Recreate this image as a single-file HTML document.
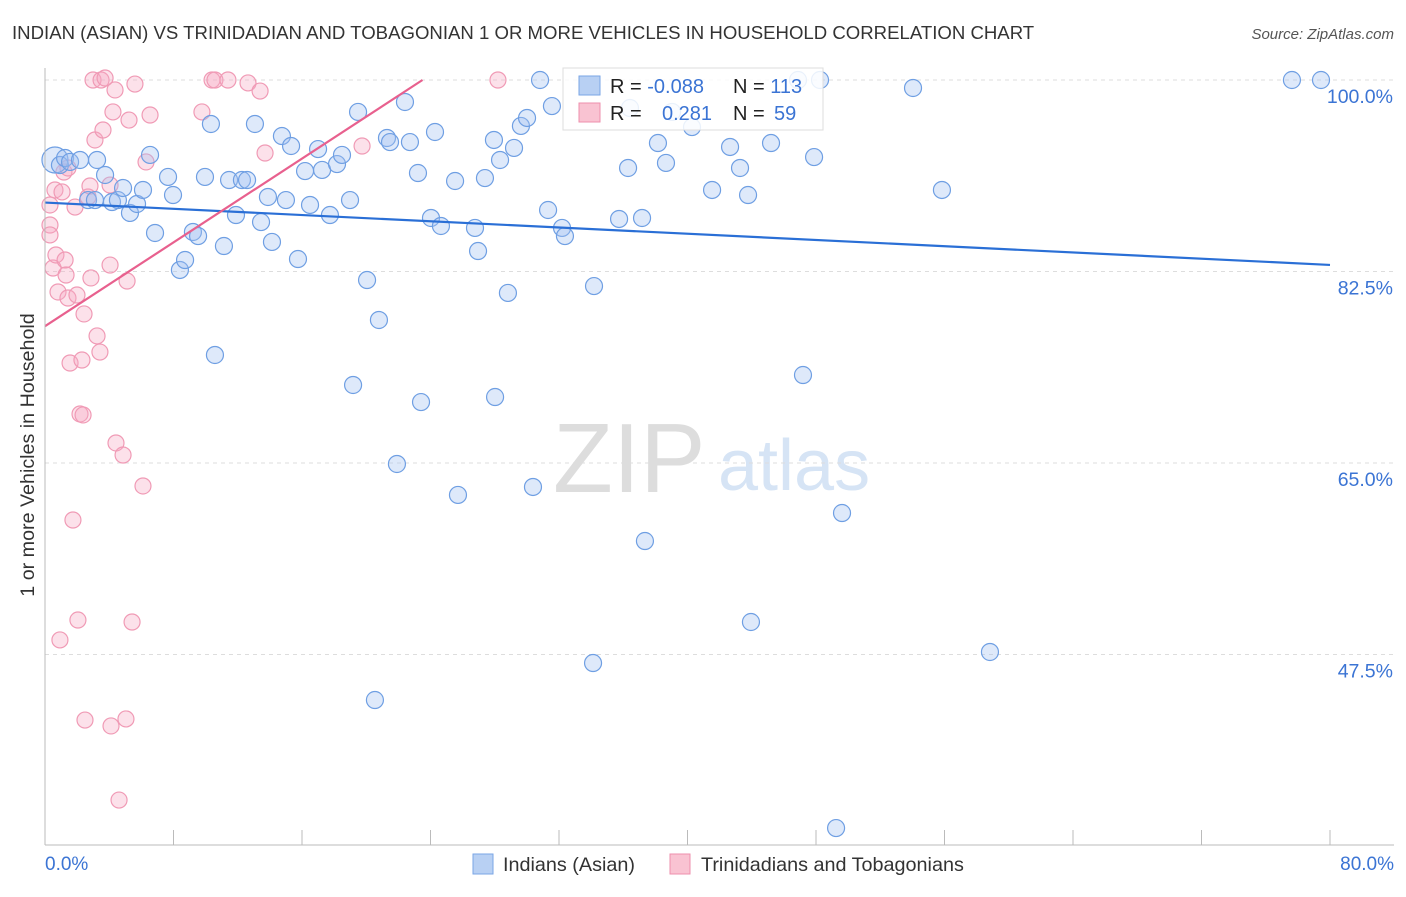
<!DOCTYPE html>
<html><head><meta charset="utf-8"><style>
body{margin:0;background:#fff;font-family:"Liberation Sans",sans-serif}
svg text{font-family:"Liberation Sans",sans-serif}
</style></head><body>
<svg id="c" width="1406" height="892">
<text x="12" y="39" font-size="18.6" fill="#333">INDIAN (ASIAN) VS TRINIDADIAN AND TOBAGONIAN 1 OR MORE VEHICLES IN HOUSEHOLD CORRELATION CHART</text>
<text x="1394" y="39" font-size="15" fill="#555" font-style="italic" text-anchor="end">Source: ZipAtlas.com</text>
<text x="553" y="492" font-size="98" fill="#ddd" font-family="Liberation Serif">ZIP</text>
<text x="718" y="490" font-size="72" fill="#d6e4f5">atlas</text>
<g id="grid"></g><g id="pts"></g><g id="lines"></g>
<line x1="45" y1="68" x2="45" y2="845" stroke="#bbb"/>
<line x1="45" y1="845" x2="1394" y2="845" stroke="#bbb"/>
<text x="34" y="455" font-size="19.7" fill="#333" text-anchor="middle" transform="rotate(-90 34 455)">1 or more Vehicles in Household</text>
<text x="45" y="870" font-size="19" fill="#3b74d4">0.0%</text>
<text x="1394" y="870" font-size="19" fill="#3b74d4" text-anchor="end">80.0%</text>
<g>
<rect x="563" y="68" width="260" height="62" fill="rgba(255,255,255,0.85)" stroke="#ddd"/>
<rect x="579" y="76" width="21" height="19" fill="#b8d0f3" stroke="#7aa6e6"/>
<rect x="579" y="103" width="21" height="19" fill="#f9c3d2" stroke="#ee8fac"/>
<text x="610" y="93" font-size="20" fill="#222">R = <tspan fill="#3b74d4">-0.088</tspan></text>
<text x="733" y="93" font-size="20" fill="#222">N = <tspan fill="#3b74d4">113</tspan></text>
<text x="610" y="120" font-size="20" fill="#222">R = </text>
<text x="662" y="120" font-size="20" fill="#3b74d4">0.281</text>
<text x="733" y="120" font-size="20" fill="#222">N = </text>
<text x="774" y="120" font-size="20" fill="#3b74d4">59</text>
</g>
<g>
<rect x="473" y="854" width="20" height="20" fill="#b8d0f3" stroke="#7aa6e6"/>
<text x="503" y="871" font-size="19.8" fill="#333">Indians (Asian)</text>
<rect x="670" y="854" width="20" height="20" fill="#f9c3d2" stroke="#ee8fac"/>
<text x="701" y="871" font-size="19.8" fill="#333">Trinidadians and Tobagonians</text>
</g>
</svg>
<script>
const yTicks=[100,82.5,65,47.5];
const yTickLabels=["100.0%","82.5%","65.0%","47.5%"];
const xTicks=[0,8,16,24,32,40,48,56,64,72,80];
const bluePx=[[55,160],[60,165],[65,158],[70,162],[80,160],[97,160],[88,200],[95,200],[105,175],[112,202],[118,200],[123,188],[130,213],[137,204],[143,190],[150,155],[155,233],[168,177],[173,195],[180,270],[185,260],[193,232],[198,236],[205,177],[211,124],[215,355],[224,246],[229,180],[236,215],[242,180],[247,180],[255,124],[261,222],[268,197],[272,242],[282,136],[286,200],[291,146],[298,259],[305,171],[310,205],[318,149],[322,170],[330,215],[337,164],[342,155],[350,200],[353,385],[358,112],[367,280],[375,700],[379,320],[387,138],[390,142],[397,464],[405,102],[410,142],[418,173],[421,402],[431,218],[435,132],[441,226],[455,181],[458,495],[475,228],[478,251],[485,178],[494,140],[495,397],[500,160],[508,293],[514,148],[521,126],[527,118],[533,487],[540,80],[548,210],[552,106],[562,228],[565,236],[594,286],[593,663],[619,219],[628,168],[642,218],[645,541],[658,143],[666,163],[672,112],[692,127],[712,190],[730,147],[740,168],[748,195],[751,622],[771,143],[798,80],[803,375],[814,157],[836,828],[842,513],[913,88],[942,190],[990,652],[1292,80],[1321,80],[820,80],[630,108]];
const pinkPx=[[55,190],[50,205],[50,225],[50,235],[53,268],[56,255],[58,292],[60,640],[62,192],[64,172],[65,260],[66,275],[68,298],[70,363],[73,520],[75,207],[77,295],[78,620],[80,414],[82,360],[83,415],[84,314],[85,720],[88,197],[90,186],[91,278],[93,80],[95,140],[97,336],[100,352],[101,80],[103,130],[105,78],[110,265],[111,726],[113,112],[115,90],[116,443],[119,800],[123,455],[126,719],[127,281],[129,120],[132,622],[135,84],[143,486],[146,162],[150,115],[202,112],[212,80],[215,80],[228,80],[248,83],[260,91],[265,153],[362,146],[498,80],[110,185],[68,168]];
const blueX=bluePx.map(p=>+((p[0]-45)*80/1285).toFixed(2));
const blueY=bluePx.map(p=>+(100-(p[1]-80)*17.5/191.5).toFixed(2));
const pinkX=pinkPx.map(p=>+((p[0]-45)*80/1285).toFixed(2));
const pinkY=pinkPx.map(p=>+(100-(p[1]-80)*17.5/191.5).toFixed(2));
const blueTrend=[[0,88.8],[80,83.1]];
const pinkTrend=[[0,77.5],[23.5,100]];
const X=v=>45+v*1285/80, Y=v=>80+(100-v)*191.5/17.5;
const NS="http://www.w3.org/2000/svg";
function mk(t,a,p){const e=document.createElementNS(NS,t);for(const k in a)e.setAttribute(k,a[k]);p.appendChild(e);return e;}
const g=document.getElementById('grid');
yTicks.forEach((v,i)=>{
 const l=mk('line',{x1:45,x2:1394,y1:Y(v),y2:Y(v),stroke:'#ddd','stroke-dasharray':'4,4'},g);
 
 
 const t=mk('text',{x:1393,y:Y(v)+23,'font-size':19.5,fill:'#3b74d4','text-anchor':'end'},g);
 t.textContent=yTickLabels[i];
 
 
});
xTicks.forEach(v=>{
 const l=mk('line',{x1:X(v),x2:X(v),y1:830,y2:845,stroke:'#bbb'},g);
 
 
});
const pg=document.getElementById('pts');
pinkX.forEach((x,i)=>{
 const c=mk('circle',{cx:X(x),cy:Y(pinkY[i]),r:8,fill:'rgba(246,170,195,0.35)',stroke:'#f09ab5','stroke-width':1.2},pg);
 
 
});
blueX.forEach((x,i)=>{
 const c=mk('circle',{cx:X(x),cy:Y(blueY[i]),r:i==0?13:8.5,fill:'rgba(160,192,240,0.35)',stroke:'#6f9fe3','stroke-width':1.2},pg);
 
 
});
const lg=document.getElementById('lines');
const bl=mk('line',{x1:X(blueTrend[0][0]),y1:Y(blueTrend[0][1]),x2:X(blueTrend[1][0]),y2:Y(blueTrend[1][1]),stroke:'#2a6fd6','stroke-width':2.2},lg);


const pl=mk('line',{x1:X(pinkTrend[0][0]),y1:Y(pinkTrend[0][1]),x2:X(pinkTrend[1][0]),y2:Y(pinkTrend[1][1]),stroke:'#e8608e','stroke-width':2.2},lg);


</script>
</body></html>
